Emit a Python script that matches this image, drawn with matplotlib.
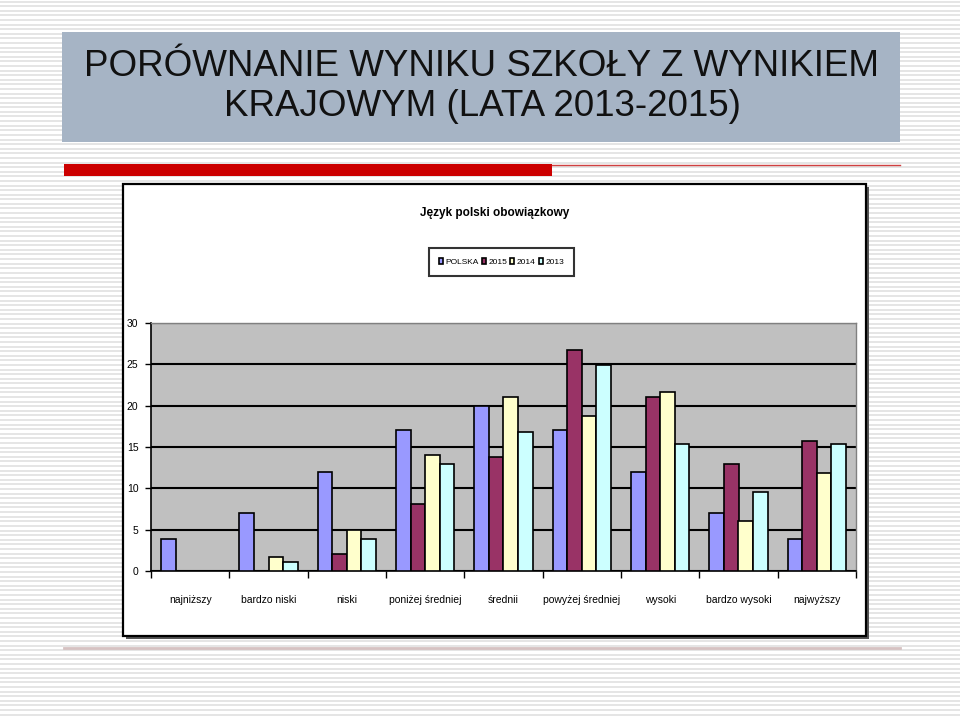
import matplotlib.pyplot as plt
import numpy as np
from matplotlib import font_manager
from matplotlib.patches import Rectangle

# data
categories = ["najniższy", "bardzo niski", "niski", "poniżej średniej", "średnii",
              "powyżej średniej", "wysoki", "bardzo wysoki", "najwyższy"]
series_names = ["POLSKA", "2015", "2014", "2013"]
polska = [3.9, 7.0, 12.0, 17.1, 19.9, 17.1, 12.0, 7.0, 3.9]
wyn_2015 = [0, 0, 2.0, 8.1, 13.8, 26.7, 21.0, 12.9, 15.7]
wyn_2014 = [0, 1.7, 5.0, 14.0, 21.0, 18.8, 21.6, 6.1, 11.8]
wyn_2013 = [0, 1.1, 3.9, 12.9, 16.8, 24.9, 15.4, 9.5, 15.4]
colors = ["#9999FF", "#993366", "#FFFFCC", "#CCFFFF"]

available = {f.name for f in font_manager.fontManager.ttflist}
narrow = "Liberation Sans Narrow" if "Liberation Sans Narrow" in available else "Liberation Sans"
plt.rcParams['font.family'] = [narrow, 'DejaVu Sans']

W, H = 960, 717
fig = plt.figure(figsize=(W / 100, H / 100), dpi=100)

# slide background in pixel coordinates
bg = fig.add_axes([0, 0, 1, 1])
bg.set_xlim(0, W)
bg.set_ylim(H, 0)
bg.axis('off')
bg.hlines(np.arange(1.5, H, 4.6), 0, W, color='#E3E3E3', lw=1.3, zorder=0)

bg.add_patch(Rectangle((62, 32), 838, 110, facecolor='#A6B4C5', edgecolor='none', zorder=1))
bg.text(482, 66, "PORÓWNANIE WYNIKU SZKOŁY Z WYNIKIEM", ha='center', va='center',
        fontsize=26.5, color='#111111', zorder=2)
bg.text(482, 106, "KRAJOWYM (LATA 2013-2015)", ha='center', va='center',
        fontsize=26.5, color='#111111', zorder=2)

bg.add_patch(Rectangle((64, 164), 488, 12, facecolor='#CC0000', edgecolor='none', zorder=1))
bg.plot([552, 900], [164.5, 164.5], color='#D04040', lw=1, zorder=1)
bg.plot([64, 900], [648, 648], color='#D6C2C2', lw=2, zorder=1)

# chart box with shadow
bg.add_patch(Rectangle((126, 187), 743, 452, facecolor='#555555', edgecolor='none', zorder=1))
bg.add_patch(Rectangle((123, 184), 743, 452, facecolor='white', edgecolor='black', lw=1.6, zorder=2))
bg.text(495, 213, "Język polski obowiązkowy", ha='center', va='center',
        fontsize=8.5, fontweight='bold', zorder=3)

ax = fig.add_axes([151 / W, 1 - 571 / H, 705 / W, 248 / H])
ax.set_facecolor('#C0C0C0')

x = np.arange(len(categories))
w = 0.187
all_series = [polska, wyn_2015, wyn_2014, wyn_2013]
handles = []
for j, (vals, name, c) in enumerate(zip(all_series, series_names, colors)):
    b = ax.bar(x + (j - 1.5) * w, vals, width=w, color=c, edgecolor='black',
               linewidth=1.2, label=name, zorder=3)
    handles.append(b)

ax.set_xlim(-0.5, len(categories) - 0.5)
ax.set_ylim(0, 30)
ax.set_yticks(np.arange(0, 31, 5))
ax.yaxis.grid(True, color='black', lw=1.5, zorder=1)
ax.set_axisbelow(True)
ax.set_xticks(np.arange(-0.5, len(categories), 1))
ax.set_xticklabels([])
ax.set_xticks(x, minor=True)
ax.set_xticklabels(categories, minor=True, fontsize=7.5)
ax.tick_params(axis='x', which='minor', length=0, pad=17)
ax.tick_params(axis='x', which='major', length=5, width=1, direction='out')
ax.tick_params(axis='y', length=4, width=1, direction='out', labelsize=7.5, pad=5)
for side in ['top', 'right']:
    ax.spines[side].set_color('#808080')
    ax.spines[side].set_linewidth(1)
for side in ['left', 'bottom']:
    ax.spines[side].set_color('black')
    ax.spines[side].set_linewidth(1.2)

leg = fig.legend(handles=handles, labels=series_names, loc='center',
                 bbox_to_anchor=(501.5 / W, 1 - 262 / H), ncol=4, fontsize=6,
                 frameon=True, fancybox=False, edgecolor='black', handlelength=0.5,
                 handleheight=0.8, handletextpad=0.3, columnspacing=0.35,
                 borderpad=1.2)
leg.get_frame().set_linewidth(1.5)
leg.set_zorder(5)

fig.savefig('out.png', dpi=100)
